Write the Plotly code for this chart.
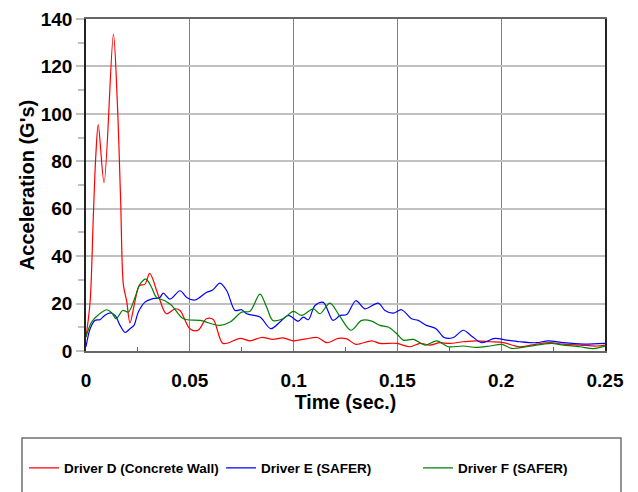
import plotly.graph_objects as go

# ---- data ----
red_t = [0, 0.002, 0.0035, 0.0047, 0.0059, 0.0087, 0.0132, 0.0151, 0.0167, 0.018, 0.0196, 0.0212,
         0.0236, 0.0257, 0.0284, 0.0307, 0.035, 0.0387, 0.0429, 0.0453, 0.05, 0.054, 0.058, 0.0613,
         0.066, 0.0742, 0.079, 0.0846, 0.090, 0.095, 0.0999, 0.106, 0.1114, 0.116, 0.1215, 0.1256,
         0.130, 0.1376, 0.1416, 0.1497, 0.156, 0.161, 0.1657, 0.1705, 0.175, 0.1817, 0.188, 0.1946,
         0.201, 0.209, 0.217, 0.2235, 0.230, 0.238, 0.246, 0.25]
red_v = [5.8, 21, 56, 82, 95.5, 71, 133.5, 104.6, 63, 28, 21, 11.8,
         21, 27.5, 28.2, 32.7, 23, 15.7, 17.8, 17.1, 9.4, 8.75, 13.6, 13.3,
         3.2, 5.3, 4.3, 5.7, 4.9, 5.5, 4.3, 5.1, 5.7, 3.5, 5.3, 5.1,
         2.8, 4.3, 3.2, 3.2, 1.8, 3.2, 2.5, 3.5, 3.2, 3.9, 4.3, 3.9,
         3.5, 1.8, 2.9, 3.5, 2.9, 2.5, 2.1, 2.5]

blue_t = [0, 0.002, 0.0043, 0.0067, 0.009, 0.0116, 0.014, 0.0164, 0.0188, 0.0212, 0.0231, 0.0252,
          0.0284, 0.0316, 0.0356, 0.0372, 0.0405, 0.0453, 0.0485, 0.0525, 0.058, 0.061, 0.0645,
          0.0678, 0.0718, 0.075, 0.0774, 0.0838, 0.089, 0.0934, 0.0974, 0.1023, 0.1047, 0.1071,
          0.1103, 0.1143, 0.119, 0.1224, 0.1256, 0.130, 0.1344, 0.1408, 0.144, 0.148, 0.152, 0.1568,
          0.160, 0.164, 0.1686, 0.1725, 0.177, 0.1817, 0.1858, 0.1906, 0.197, 0.2026, 0.209, 0.217,
          0.2227, 0.230, 0.2395, 0.25]
blue_v = [1.8, 9.4, 12.9, 13.2, 15, 16.1, 15, 10.8, 7.8, 9.4, 10.8, 16.4,
          20.6, 21.9, 22.6, 24.4, 21.9, 25.4, 22.6, 21.5, 24.7, 25.7, 28.6,
          25.4, 17.1, 17.4, 15.7, 14.3, 9.4, 12.2, 15, 12.6, 14.3, 13.2,
          19.2, 20.5, 12.9, 15, 15.4, 21.2, 17.8, 20.2, 17.1, 16, 17.4, 13.6,
          12.9, 10.8, 9.4, 5.7, 5.7, 8.75, 6.25, 3.5, 5.3, 4.6, 3.9, 3.5,
          4.3, 3.5, 2.9, 3.2]

green_t = [0, 0.0027, 0.006, 0.010, 0.0124, 0.0145, 0.0177, 0.0204, 0.0236, 0.026, 0.0289, 0.0316,
           0.034, 0.038, 0.0413, 0.0469, 0.055, 0.0645, 0.0694, 0.075, 0.079, 0.0838, 0.087, 0.090,
           0.095, 0.0999, 0.1039, 0.1095, 0.1127, 0.1175, 0.122, 0.1276, 0.1328, 0.1376, 0.1416,
           0.1456, 0.1497, 0.1528, 0.1577, 0.1633, 0.169, 0.1745, 0.1817, 0.188, 0.1946, 0.2002,
           0.205, 0.2123, 0.2203, 0.2243, 0.230, 0.238, 0.2443, 0.25]
green_v = [6, 12.2, 15.3, 17.4, 16.1, 13.6, 17.1, 16.4, 22.6, 28.2, 30.3, 26.8,
           22.6, 21.2, 19.2, 13.6, 12.9, 10.8, 12.2, 16.4, 16.8, 24, 18.5, 12.9,
           13.6, 16.7, 15, 17.8, 15.7, 20.2, 15, 8.75, 12.9, 12.6, 10.8,
           10.1, 7.3, 4.6, 4.9, 2.5, 4.3, 1.8, 2.1, 1.5, 2.1, 2.8,
           1.1, 1.8, 2.9, 3.2, 2.5, 1.8, 1, 2.1]

series_names = ["Driver D (Concrete Wall)", "Driver E (SAFER)", "Driver F (SAFER)"]
x_title = "Time (sec.)"
y_title = "Acceleration (G's)"

FONT = "Arial, Liberation Sans, sans-serif"

fig = go.Figure()
for t, v, name, col in [(red_t, red_v, series_names[0], "#ff0000"),
                        (blue_t, blue_v, series_names[1], "#0000ff"),
                        (green_t, green_v, series_names[2], "#008000")]:
    fig.add_trace(go.Scatter(x=t, y=v, mode="lines", name=name,
                             line=dict(color=col, width=1.2, shape="spline", smoothing=0.9)))

# page offset of the plot div (browser body margin)
OFF = 8
W, H = 638, 492
L, T = 86 - OFF, 19 - OFF
R = W - (605 - OFF)
B = H - (351 - OFF)
pw, ph = W - L - R, H - T - B

def px_x(p):
    return (p - OFF - L) / pw

def px_y(p):
    return (H - B - (p - OFF)) / ph

fig.update_layout(
    width=W, height=H,
    margin=dict(l=L, r=R, t=T, b=B, autoexpand=False),
    paper_bgcolor="white", plot_bgcolor="white",
    font=dict(family=FONT, color="black"),
    showlegend=True,
    legend=dict(orientation="h", x=px_x(24), xanchor="left", y=px_y(468), yanchor="middle",
                font=dict(family=FONT, size=13.5, weight="bold", color="black"),
                bgcolor="rgba(0,0,0,0)", borderwidth=0, entrywidth=152, entrywidthmode="pixels",
                itemwidth=30),
    xaxis=dict(range=[0, 0.25], dtick=0.05, showgrid=True, gridcolor="#808080", gridwidth=1,
               showline=True, linecolor="#666666", linewidth=2, mirror=True,
               ticks="", zeroline=False,
               minor=dict(dtick=0.025, ticks="inside", ticklen=4, tickcolor="#606060", showgrid=False),
               tickfont=dict(family=FONT, size=19, weight="bold", color="black"),
               ticklabelstandoff=11,
               title=dict(text=x_title, font=dict(family=FONT, size=19.5, weight="bold", color="black"),
                          standoff=5)),
    yaxis=dict(range=[0, 140], dtick=20, showgrid=True, gridcolor="#c0c0c0", gridwidth=2,
               showline=True, linecolor="#222222", linewidth=1.5, mirror=True, zeroline=False,
               ticks="outside", ticklen=8, tickcolor="#c0c0c0", tickwidth=2,
               minor=dict(dtick=10, ticks="outside", ticklen=6, tickcolor="#c0c0c0", tickwidth=2, showgrid=False),
               tickfont=dict(family=FONT, size=19, weight="bold", color="black"),
               title=dict(text=y_title, font=dict(family=FONT, size=20, weight="bold", color="black"),
                          standoff=1)),
    shapes=[
        dict(type="rect", xref="paper", yref="paper", x0=px_x(22), x1=px_x(621),
             y0=px_y(505), y1=px_y(438), line=dict(color="#707070", width=1.5),
             fillcolor="rgba(0,0,0,0)"),
    ],
)

fig.write_html("out.html")
